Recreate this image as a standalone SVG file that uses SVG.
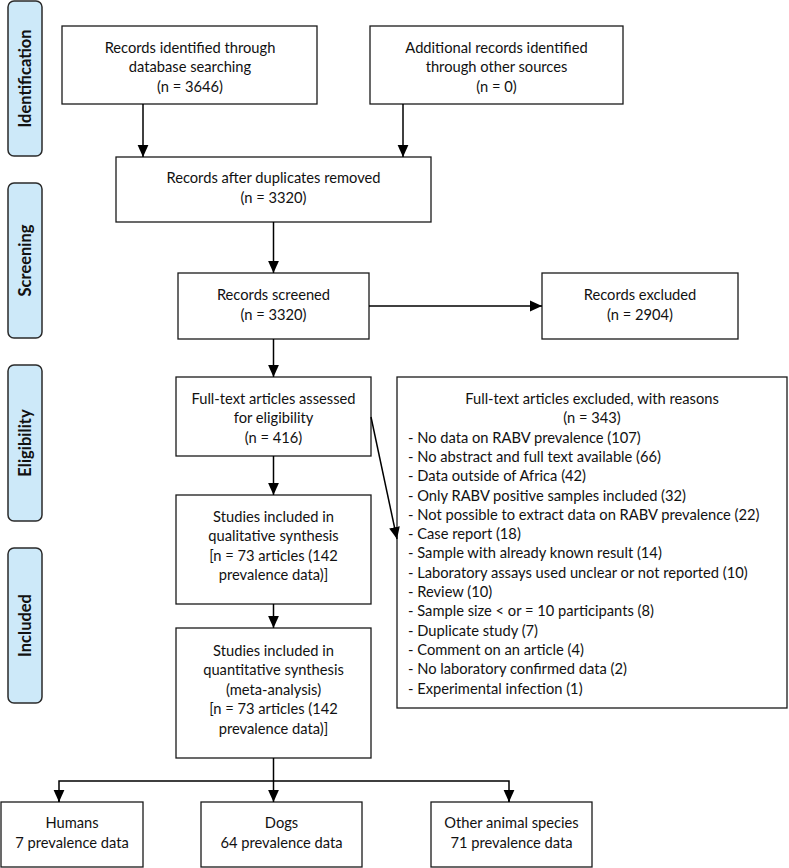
<svg xmlns="http://www.w3.org/2000/svg" width="789" height="868" viewBox="0 0 789 868">
<defs>
<marker id="ah" markerUnits="userSpaceOnUse" markerWidth="12" markerHeight="12" viewBox="0 0 10 10" refX="10" refY="5" orient="auto">
<path d="M0,0.5 L10,5 L0,9.5 Z" fill="#000"/>
</marker>
<style>
.box{fill:#fff;stroke:#1a1a1a;stroke-width:1.3}
.lbl{fill:#cde9f9;stroke:#2a2a2a;stroke-width:1.5}
text{font-family:Lato,"Liberation Sans",sans-serif;font-size:14.7px;fill:#111}
.c{text-anchor:middle}
.lt{font-weight:bold;text-anchor:middle;font-size:16.5px}
.con{stroke:#000;stroke-width:1.5;fill:none}
</style>
</defs>
<rect width="789" height="868" fill="#fff"/>

<g id="stage-identification"><rect class="lbl" x="8" y="1" width="34" height="155" rx="6"/><text class="lt" transform="translate(31,78.5) rotate(-90)">Identification</text></g>
<g id="stage-screening"><rect class="lbl" x="8" y="183" width="34" height="155" rx="6"/><text class="lt" transform="translate(31,260.5) rotate(-90)">Screening</text></g>
<g id="stage-eligibility"><rect class="lbl" x="8" y="365" width="34" height="156" rx="6"/><text class="lt" transform="translate(31,443) rotate(-90)">Eligibility</text></g>
<g id="stage-included"><rect class="lbl" x="8" y="548" width="34" height="155" rx="6"/><text class="lt" transform="translate(31,625.5) rotate(-90)">Included</text></g>

<g id="db-search"><rect class="box" x="62" y="26" width="255" height="78"/>
<text class="c" x="190" y="53">Records identified through</text>
<text class="c" x="190" y="72">database searching</text>
<text class="c" x="190" y="92">(n = 3646)</text></g>

<g id="other-sources"><rect class="box" x="370" y="26" width="253" height="78"/>
<text class="c" x="496.5" y="53">Additional records identified</text>
<text class="c" x="496.5" y="72">through other sources</text>
<text class="c" x="496.5" y="92">(n = 0)</text></g>

<g id="dup-removed"><rect class="box" x="116" y="157" width="315" height="65"/>
<text class="c" x="273.5" y="183">Records after duplicates removed</text>
<text class="c" x="273.5" y="203">(n = 3320)</text></g>

<g id="screened"><rect class="box" x="178" y="273" width="191" height="66"/>
<text class="c" x="273.5" y="300">Records screened</text>
<text class="c" x="273.5" y="320">(n = 3320)</text></g>

<g id="rec-excluded"><rect class="box" x="542" y="273" width="196" height="66"/>
<text class="c" x="640" y="300">Records excluded</text>
<text class="c" x="640" y="320">(n = 2904)</text></g>

<g id="fulltext"><rect class="box" x="176" y="377" width="195" height="79"/>
<text class="c" x="273.5" y="404">Full-text articles assessed</text>
<text class="c" x="273.5" y="423">for eligibility</text>
<text class="c" x="273.5" y="443">(n = 416)</text></g>

<g id="ft-excluded"><rect class="box" x="397" y="377" width="390" height="331"/>
<text class="c" x="592" y="404">Full-text articles excluded, with reasons</text>
<text class="c" x="592" y="423.3">(n = 343)</text>
<text x="408" y="442.6">- No data on RABV prevalence (107)</text>
<text x="408" y="461.9">- No abstract and full text available (66)</text>
<text x="408" y="481.2">- Data outside of Africa (42)</text>
<text x="408" y="500.5">- Only RABV positive samples included (32)</text>
<text x="408" y="519.8">- Not possible to extract data on RABV prevalence (22)</text>
<text x="408" y="539.1">- Case report (18)</text>
<text x="408" y="558.4">- Sample with already known result (14)</text>
<text x="408" y="577.7">- Laboratory assays used unclear or not reported (10)</text>
<text x="408" y="597">- Review (10)</text>
<text x="408" y="616.3">- Sample size &lt; or = 10 participants (8)</text>
<text x="408" y="635.6">- Duplicate study (7)</text>
<text x="408" y="654.9">- Comment on an article (4)</text>
<text x="408" y="674.2">- No laboratory confirmed data (2)</text>
<text x="408" y="693.5">- Experimental infection (1)</text></g>

<g id="qualitative"><rect class="box" x="176" y="495" width="195" height="109"/>
<text class="c" x="273.5" y="522">Studies included in</text>
<text class="c" x="273.5" y="541">qualitative synthesis</text>
<text class="c" x="273.5" y="561">[n = 73 articles (142</text>
<text class="c" x="273.5" y="580">prevalence data)]</text></g>

<g id="quantitative"><rect class="box" x="176" y="628" width="195" height="130"/>
<text class="c" x="273.5" y="656">Studies included in</text>
<text class="c" x="273.5" y="675">quantitative synthesis</text>
<text class="c" x="273.5" y="695">(meta-analysis)</text>
<text class="c" x="273.5" y="714">[n = 73 articles (142</text>
<text class="c" x="273.5" y="734">prevalence data)]</text></g>

<g id="humans"><rect class="box" x="1" y="802" width="142" height="65"/>
<text class="c" x="72" y="828">Humans</text>
<text class="c" x="72" y="848">7 prevalence data</text></g>

<g id="dogs"><rect class="box" x="201" y="802" width="161" height="65"/>
<text class="c" x="281.5" y="828">Dogs</text>
<text class="c" x="281.5" y="848">64 prevalence data</text></g>

<g id="other-species"><rect class="box" x="431" y="802" width="161" height="65"/>
<text class="c" x="511.5" y="828">Other animal species</text>
<text class="c" x="511.5" y="848">71 prevalence data</text></g>

<g id="connectors">
<line class="con" x1="143" y1="104" x2="143" y2="157" marker-end="url(#ah)"/>
<line class="con" x1="403" y1="104" x2="403" y2="157" marker-end="url(#ah)"/>
<line class="con" x1="273.5" y1="222" x2="273.5" y2="273" marker-end="url(#ah)"/>
<line class="con" x1="369" y1="306" x2="542" y2="306" marker-end="url(#ah)"/>
<line class="con" x1="273.5" y1="339" x2="273.5" y2="377" marker-end="url(#ah)"/>
<line class="con" x1="371" y1="417" x2="397" y2="539" marker-end="url(#ah)"/>
<line class="con" x1="273.5" y1="456" x2="273.5" y2="495" marker-end="url(#ah)"/>
<line class="con" x1="273.5" y1="604" x2="273.5" y2="628" marker-end="url(#ah)"/>
<line class="con" x1="273.5" y1="758" x2="273.5" y2="802" marker-end="url(#ah)"/>
<polyline class="con" points="59,802 59,781 509,781 509,802"/>
<line class="con" x1="59" y1="790" x2="59" y2="802" marker-end="url(#ah)"/>
<line class="con" x1="509" y1="790" x2="509" y2="802" marker-end="url(#ah)"/>
</g>
</svg>
